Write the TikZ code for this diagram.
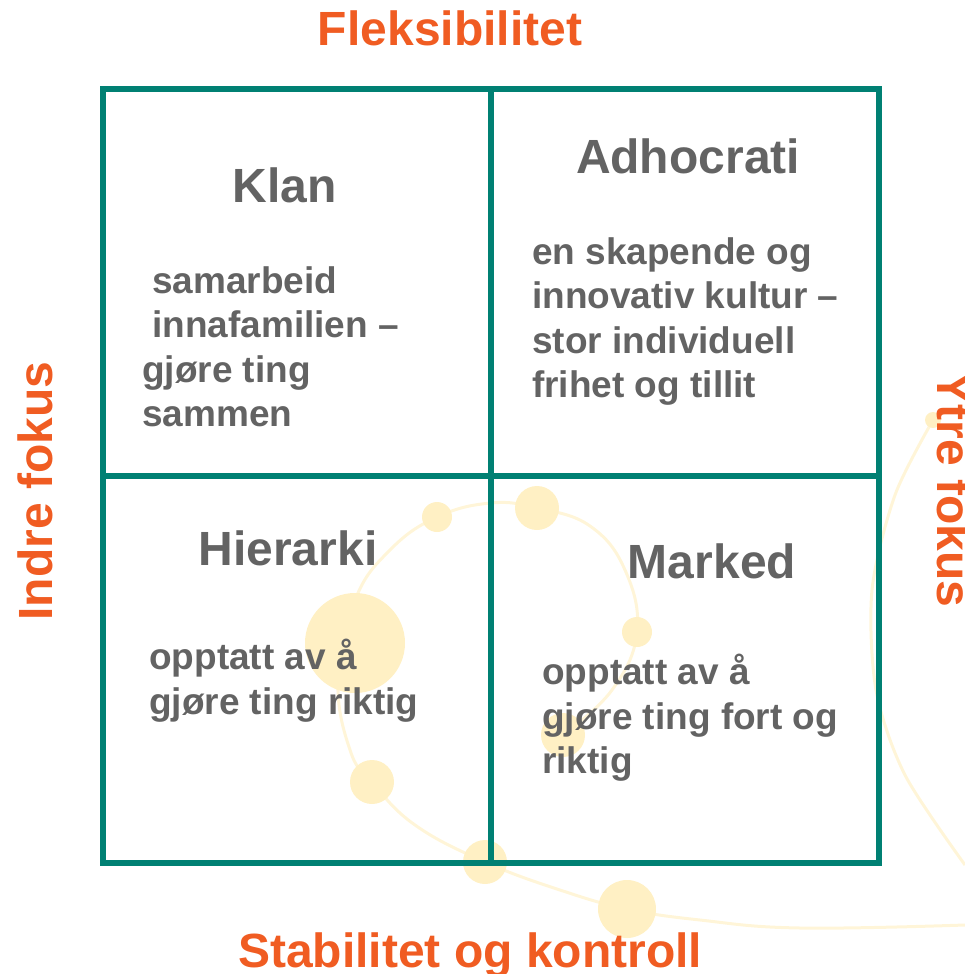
\documentclass[tikz,border=0pt]{standalone}
\usepackage{fontspec}
\setmainfont{Liberation Sans}
\usetikzlibrary{positioning}

\definecolor{quadTeal}{RGB}{0,128,115}
\definecolor{axisOrange}{RGB}{240,92,34}
\definecolor{textGray}{RGB}{99,99,99}
\definecolor{dotYellow}{RGB}{255,240,196}
\definecolor{trailYellow}{RGB}{255,245,216}

\begin{document}
\begin{tikzpicture}
    [
      x=1pt, y=-1pt,
      QUAD/.style={rectangle, draw=quadTeal, line width=6pt, minimum width=388pt, minimum height=387pt, inner sep=0pt},
      AXIS/.style={text=axisOrange, font=\fontsize{48}{56}\selectfont\bfseries, inner sep=0pt},
      TITLE/.style={text=textGray, font=\fontsize{48}{56}\selectfont\bfseries, inner sep=0pt},
      BODY/.style={text=textGray, font=\fontsize{37}{44.6}\selectfont\bfseries, inner sep=0pt, align=left, anchor=north west},
      DOT/.style={fill=dotYellow},
      TRAIL/.style={draw=trailYellow, line width=3pt},
    ]

    \useasboundingbox (0,0) rectangle (965,974);

    % faint spiral in the background
    \draw[TRAIL] plot[smooth, tension=0.7] coordinates {(563,735) (612,690) (637,632) (625,570) (590,526) (537,508) (491,503) (437,517) (390,550) (355,600) (338,680) (350,750) (372,782) (415,825) (485,862) (560,890) (627,909) (700,920) (800,928) (965,925)};
    \draw[TRAIL] plot[smooth] coordinates {(933,420) (895,495) (872,590) (876,690) (905,775) (965,865)};
    \fill[DOT] (437,517) circle (15pt);
    \fill[DOT] (537,508) circle (22pt);
    \fill[DOT] (637,632) circle (15pt);
    \fill[DOT] (563,735) circle (22pt);
    \fill[DOT] (355,643) circle (50pt);
    \fill[DOT] (372,782) circle (22pt);
    \fill[DOT] (485,862) circle (22pt);
    \fill[DOT] (627,909) circle (29pt);
    \fill[DOT] (933,420) circle (8pt);

    % the four quadrants
    \node[QUAD] (klan) at (297,282.5) {};
    \node[QUAD] (adhocrati) [right = -6pt of klan] {};
    \node[QUAD] (hierarki) [below = -6pt of klan] {};
    \node[QUAD] (marked) [below = -6pt of adhocrati] {};

    \node[TITLE, anchor=base] (klanTitle) at (285,202) {Klan};
    \node[TITLE, anchor=base] (adhocratiTitle) at (688,173) {Adhocrati};
    \node[TITLE, anchor=base] (hierarkiTitle) at (288,565) {Hierarki};
    \node[TITLE, anchor=base] (markedTitle) at (712,578) {Marked};

    \node[BODY] (klanText) at (142,266) {\hspace*{10pt}samarbeid\\ \hspace*{10pt}innafamilien –\\ gjøre ting\\ sammen};
    \node[BODY] (adhocratiText) at (532,237) {en skapende og\\ innovativ kultur –\\ stor individuell\\ frihet og tillit};
    \node[BODY] (hierarkiText) at (149,639) {opptatt av å\\ gjøre ting riktig};
    \node[BODY] (markedText) at (542,654) {opptatt av å\\ gjøre ting fort og\\ riktig};

    % the two axes
    \node[AXIS, anchor=base] (fleks) at (450,46) {Fleksibilitet};
    \node[AXIS, anchor=base] (stab) at (470,967) {Stabilitet og kontroll};
    \node[AXIS, anchor=base, rotate=90] (indre) at (52,491) {Indre fokus};
    \node[AXIS, anchor=base, rotate=-90] (ytre) at (937,490) {Ytre fokus};

  \end{tikzpicture}
\end{document}
